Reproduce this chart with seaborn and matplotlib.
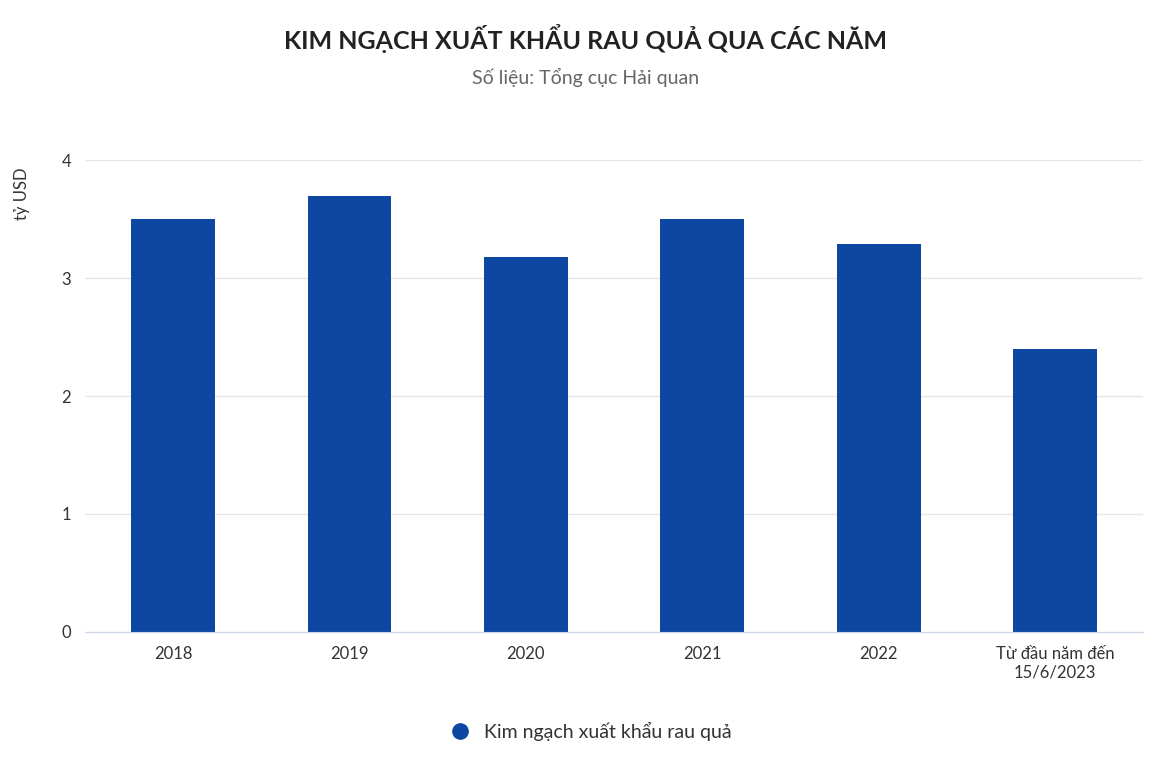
import matplotlib
matplotlib.use("Agg")
import matplotlib.pyplot as plt
import seaborn as sns
import pandas as pd
from matplotlib.lines import Line2D

plt.rcParams["font.family"] = "Lato"

categories = ["2018", "2019", "2020", "2021", "2022", "Từ đầu năm đến\n15/6/2023"]
values = [3.5, 3.7, 3.18, 3.5, 3.29, 2.4]
series_name = "Kim ngạch xuất khẩu rau quả"
bar_color = "#0d47a1"

df = pd.DataFrame({"cat": categories, "val": values})

fig = plt.figure(figsize=(11.72, 7.64), dpi=100)
ax = fig.add_axes([0.0725, 0.173, 0.903, 0.617])
sns.barplot(data=df, x="cat", y="val", color=bar_color, width=0.475, saturation=1, ax=ax)

ax.set_ylim(0, 4.0)
ax.set_yticks([0, 1, 2, 3, 4])
ax.grid(axis="y", color="#e6e6e6", linewidth=1)
ax.set_axisbelow(True)
for s in ["top", "right", "left"]:
    ax.spines[s].set_visible(False)
ax.spines["bottom"].set_color("#ccd6eb")
ax.tick_params(axis="both", length=0, labelsize=12, colors="#333333", pad=10)
ax.set_xlabel("")
ax.set_ylabel("tỷ USD", fontsize=12, color="#333333", labelpad=18)
ax.yaxis.set_label_coords(-0.052, 0.93)

fig.text(0.5, 0.95, "KIM NGẠCH XUẤT KHẨU RAU QUẢ QUA CÁC NĂM", ha="center", va="center",
         fontsize=18, fontweight="bold", color="#222222")
fig.text(0.5, 0.898, "Số liệu: Tổng cục Hải quan", ha="center", va="center",
         fontsize=14, color="#666666")

handle = Line2D([], [], marker="o", linestyle="", color=bar_color, markersize=11)
fig.legend([handle], [series_name], loc="center", bbox_to_anchor=(0.5, 0.043),
           frameon=False, fontsize=14, handletextpad=0.2, labelcolor="#333333")

fig.savefig("out.png", dpi=100)
